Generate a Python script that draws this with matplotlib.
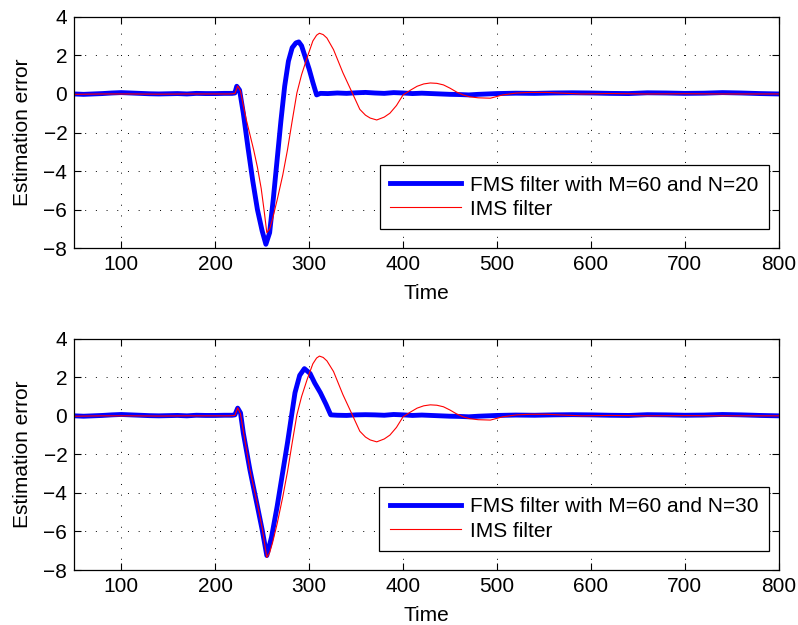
import matplotlib
matplotlib.use("Agg")
import matplotlib.pyplot as plt

# ---- data ----
# top panel, FMS filter M=60, N=20
t_fms20 = [50, 60, 70, 80, 90, 100, 110, 120, 130, 140, 150, 160, 170, 180, 190, 200,
           210, 218, 221, 223, 226, 230, 235, 240, 245, 250, 254, 258, 262, 266, 270,
           274, 278, 282, 286, 289, 292, 296, 300, 304, 308, 312, 320, 330, 340, 350,
           360, 370, 380, 390, 400, 410, 420, 430, 440, 450, 460, 470, 480, 490, 500,
           520, 540, 560, 580, 600, 620, 640, 660, 680, 700, 720, 740, 760, 780, 800]
v_fms20 = [0.0, -0.02, 0.0, 0.02, 0.05, 0.07, 0.05, 0.03, 0.01, 0.0, 0.01, 0.02, 0.0,
           0.03, 0.02, 0.02, 0.03, 0.03, 0.05, 0.4, 0.2, -1.0, -2.8, -4.5, -6.0, -7.1,
           -7.8, -7.2, -5.4, -3.4, -1.4, 0.4, 1.7, 2.4, 2.65, 2.7, 2.5, 1.9, 1.3, 0.6,
           -0.05, 0.03, 0.02, 0.05, 0.03, 0.06, 0.08, 0.05, 0.03, 0.07, 0.05, 0.02, 0.04,
           0.02, 0.0, -0.02, -0.03, -0.05, -0.02, 0.0, 0.02, 0.04, 0.03, 0.05, 0.06, 0.05,
           0.03, 0.02, 0.06, 0.05, 0.03, 0.04, 0.07, 0.05, 0.02, 0.0]

# top panel, IMS filter
t_ims_top = [50, 80, 110, 140, 170, 200, 215, 221, 224, 227, 230, 233, 237, 241, 245,
             249, 252, 255, 258, 261, 266, 272, 277, 282, 287, 292, 298, 304, 308, 311,
             315, 319, 326, 336, 346, 354, 360, 365, 372, 380, 386, 393, 400, 408, 415,
             422, 429, 436, 443, 450, 457, 464, 471, 480, 493, 506, 521, 535, 553, 570,
             590, 620, 660, 700, 740, 800]
v_ims_top = [-0.02, 0.0, 0.0, -0.01, 0.0, 0.0, 0.0, 0.02, 0.42, 0.15, -0.6, -1.3, -2.1,
             -2.9, -3.8, -4.9, -6.0, -7.2, -7.0, -6.5, -5.5, -4.2, -2.9, -1.4, 0.05, 1.0,
             1.9, 2.75, 3.05, 3.15, 3.08, 2.9, 2.3, 1.1, 0.05, -0.8, -1.1, -1.25, -1.35,
             -1.2, -1.0, -0.6, -0.05, 0.2, 0.4, 0.52, 0.57, 0.55, 0.47, 0.3, 0.1, -0.05,
             -0.15, -0.2, -0.22, -0.05, 0.05, 0.08, 0.08, 0.04, 0.0, 0.02, 0.0, 0.01,
             0.0, 0.0]

# bottom panel, FMS filter M=60, N=30
t_fms30 = [50, 60, 70, 80, 90, 100, 110, 120, 130, 140, 150, 160, 170, 180, 190, 200,
           210, 218, 221, 224, 227, 230, 237, 245, 250, 255, 260, 266, 272, 277, 281,
           285, 290, 295, 301, 306, 312, 318, 323, 330, 340, 350, 360, 370, 380, 390,
           400, 410, 420, 430, 440, 450, 460, 470, 480, 490, 500, 520, 540, 560, 580,
           600, 620, 640, 660, 680, 700, 720, 740, 760, 780, 800]
v_fms30 = [0.0, -0.02, 0.0, 0.02, 0.05, 0.07, 0.05, 0.03, 0.01, 0.0, 0.01, 0.02, 0.0,
           0.03, 0.02, 0.02, 0.03, 0.03, 0.05, 0.4, 0.15, -0.9, -2.8, -4.7, -5.9, -7.25,
           -6.3, -4.7, -2.9, -1.4, -0.1, 1.2, 2.1, 2.45, 2.2, 1.7, 1.2, 0.6, 0.05, 0.03,
           0.02, 0.05, 0.06, 0.05, 0.03, 0.07, 0.05, 0.02, 0.04, 0.02, 0.0, -0.02, -0.03,
           -0.05, -0.02, 0.0, 0.02, 0.04, 0.03, 0.05, 0.06, 0.05, 0.03, 0.02, 0.06, 0.05,
           0.03, 0.04, 0.07, 0.05, 0.02, 0.0]

# bottom panel, IMS filter
t_ims_bot = [50, 80, 110, 140, 170, 200, 215, 221, 224, 227, 230, 237, 245, 250, 255,
             258, 261, 266, 272, 277, 282, 287, 292, 298, 304, 308, 311, 315, 319, 326,
             336, 346, 354, 360, 365, 372, 380, 386, 393, 400, 408, 415, 422, 429, 436,
             443, 450, 457, 464, 471, 480, 493, 506, 521, 535, 553, 570, 590, 620, 660,
             700, 740, 800]
v_ims_bot = [-0.02, 0.0, 0.0, -0.01, 0.0, 0.0, 0.0, 0.02, 0.42, 0.1, -0.8, -2.8, -4.6,
             -5.8, -7.35, -7.1, -6.6, -5.6, -4.2, -2.9, -1.4, 0.05, 1.0, 1.9, 2.7, 3.0,
             3.1, 3.03, 2.85, 2.3, 1.1, 0.05, -0.8, -1.1, -1.25, -1.35, -1.2, -1.0, -0.6,
             -0.05, 0.2, 0.4, 0.52, 0.57, 0.55, 0.47, 0.3, 0.1, -0.05, -0.15, -0.2, -0.22,
             -0.05, 0.05, 0.08, 0.08, 0.04, 0.0, 0.02, 0.0, 0.01, 0.0, 0.0]

panels = [
    (t_fms20, v_fms20, t_ims_top, v_ims_top, "FMS filter with M=60 and N=20"),
    (t_fms30, v_fms30, t_ims_bot, v_ims_bot, "FMS filter with M=60 and N=30"),
]

x_ticks = [100, 200, 300, 400, 500, 600, 700, 800]
y_ticks = [-8, -6, -4, -2, 0, 2, 4]

plt.rcParams["font.family"] = ["Liberation Sans", "DejaVu Sans"]
plt.rcParams["font.size"] = 15

fig = plt.figure(figsize=(7.98, 6.25), dpi=100)
rects = [[0.093, 0.603, 0.883, 0.370], [0.093, 0.088, 0.883, 0.370]]

for rect, (tf, vf, ti, vi, lab) in zip(rects, panels):
    ax = fig.add_axes(rect)
    ax.plot(tf, vf, color="#0000ff", linewidth=3.5, label=lab)
    ax.plot(ti, vi, color="#ff0000", linewidth=0.8, label="IMS filter")
    ax.set_xlim(50, 800)
    ax.set_ylim(-8, 4)
    ax.set_xticks(x_ticks)
    ax.set_yticks(y_ticks)
    ax.set_yticklabels([f"{v}".replace("-", "\u2212") for v in y_ticks])
    ax.grid(True, color="black", linestyle=(0, (1, 10)), linewidth=0.7)
    ax.tick_params(direction="in", top=True, right=True, length=5, width=0.8, pad=5)
    for sp in ax.spines.values():
        sp.set_linewidth(0.9)
    ax.set_xlabel("Time", labelpad=7)
    ax.set_ylabel("Estimation error", labelpad=8)
    leg = ax.legend(loc="lower right", bbox_to_anchor=(0.986, 0.082),
                    borderaxespad=0, fancybox=False, framealpha=1, edgecolor="black",
                    handlelength=3.4, handletextpad=0.45, labelspacing=0.25,
                    borderpad=0.5)
    leg.get_frame().set_linewidth(0.9)

fig.savefig("out.png", dpi=100)
